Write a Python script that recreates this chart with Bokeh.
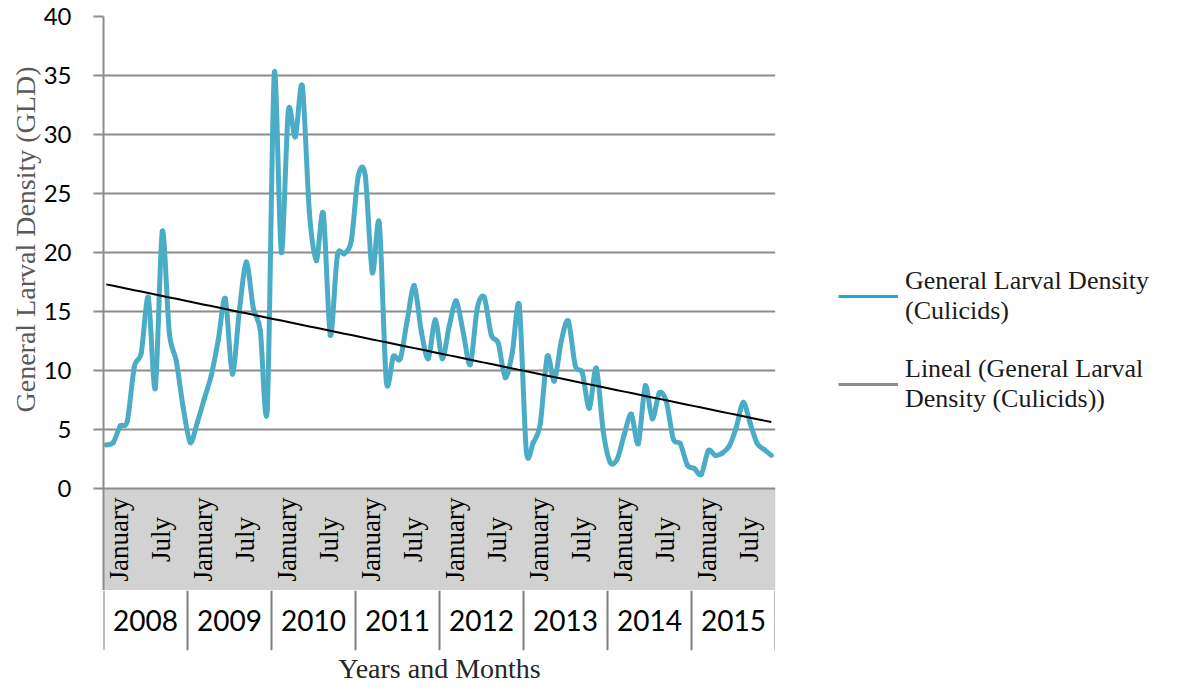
import numpy as np
from bokeh.plotting import figure
from bokeh.layouts import column
from bokeh.models import (Range1d, FixedTicker, Legend, LegendItem,
                          ColumnDataSource, Title, BoxAnnotation)
from bokeh.core.properties import value
from bokeh.embed import file_html
from bokeh.resources import INLINE

# ---------------- data ----------------
years = ["2008", "2009", "2010", "2011", "2012", "2013", "2014", "2015"]
month_tick_names = ["January", "July"]          # labelled months of each year
month_tick_offsets = [0, 6]                      # month number within the year
y_ticks = [0, 5, 10, 15, 20, 25, 30, 35, 40]

# General Larval Density (Culicids), monthly Jan 2008 .. Dec 2015
gld = [
    3.7, 3.9, 5.3, 5.7, 10.3, 11.5, 16.2, 8.5, 21.8, 13.2, 10.8, 6.8,      # 2008
    3.9, 5.6, 7.6, 9.6, 12.6, 16.1, 9.7, 15.0, 19.2, 15.3, 13.4, 6.8,      # 2009
    35.2, 20.0, 32.0, 29.8, 34.1, 23.5, 19.3, 23.3, 13.0, 19.7, 19.9, 21.0, # 2010
    26.5, 26.5, 18.3, 22.5, 9.1, 11.2, 11.0, 14.3, 17.2, 13.3, 11.0, 14.3, # 2011
    11.0, 13.8, 15.9, 13.2, 10.5, 15.3, 16.2, 13.0, 12.3, 9.4, 11.5, 15.5, # 2012
    3.2, 3.9, 5.5, 11.2, 9.1, 12.5, 14.2, 10.4, 9.8, 6.8, 10.2, 4.8,       # 2013
    2.2, 2.5, 4.6, 6.3, 3.8, 8.7, 5.9, 8.1, 7.4, 4.2, 3.8, 2.0,            # 2014
    1.7, 1.2, 3.2, 2.8, 3.0, 3.6, 5.2, 7.3, 5.5, 3.8, 3.3, 2.8,            # 2015
]

# ---------------- styling constants ----------------
BLUE = "#4bacc6"
GRID = "#8c8c8c"
BAND_FILL = "#d2d2d2"
SERIF = "Liberation Serif"
SANS = "Lato"
FRAME_LEFT = 103
FRAME_W = 672
FRAME_TOP = 16
FRAME_H1 = 590 - FRAME_TOP          # value area + grey month band
BAND = 102 / (472 / 40)    # depth (y units) of the grey month band below 0 (102 px)
LABEL_SHIFT = 1.8          # month labels sit slightly right of their data point
SEP_SHIFT = -0.4           # year separators sit just left of January
TENSION = 1.0 / 7.0        # curve smoothing

n = len(gld)
xs = np.arange(n, dtype=float)
ys = np.array(gld, dtype=float)

x_range = Range1d(-0.4, n - 0.4)

# ---------------- main plot (incl. month band) ----------------
p1 = figure(frame_width=FRAME_W, frame_height=FRAME_H1, x_range=x_range,
            y_range=Range1d(-BAND, 40),
            x_axis_location=None, output_backend="svg", toolbar_location=None,
            min_border_left=FRAME_LEFT, min_border_right=0,
            min_border_top=FRAME_TOP, min_border_bottom=0)
p1.outline_line_color = None
p1.background_fill_color = "white"
p1.border_fill_color = "white"
p1.xgrid.grid_line_color = None

# grey band behind the month labels
p1.add_layout(BoxAnnotation(top=0, fill_color=BAND_FILL, fill_alpha=1.0,
                            line_color=None, level="image"))

p1.ygrid.grid_line_color = GRID
p1.ygrid.grid_line_width = 2
p1.yaxis.ticker = FixedTicker(ticks=y_ticks)
p1.ygrid.ticker = FixedTicker(ticks=y_ticks)
p1.yaxis.axis_line_color = GRID
p1.yaxis.axis_line_width = 2
p1.yaxis.major_tick_line_color = GRID
p1.yaxis.major_tick_line_width = 2
p1.yaxis.major_tick_out = 10
p1.yaxis.major_tick_in = 0
p1.yaxis.minor_tick_line_color = None
p1.yaxis.major_label_text_font = SANS
p1.yaxis.major_label_text_font_size = "24px"
p1.yaxis.major_label_text_color = "black"
p1.yaxis.major_label_standoff = 22

# y axis title, placed along the value part of the axis
p1.add_layout(Title(text="General Larval Density (GLD)", align="left", offset=178,
                    text_font=SERIF, text_font_size="28px",
                    text_font_style="normal", text_color="#595959",
                    standoff=0), "left")

# smoothed series drawn as bezier segments (Excel-style smoothing)
prev_i = np.clip(np.arange(n - 1) - 1, 0, n - 1)
next2_i = np.clip(np.arange(n - 1) + 2, 0, n - 1)
i0 = np.arange(n - 1)
i1 = i0 + 1
bz = ColumnDataSource(dict(
    x0=xs[i0], y0=ys[i0], x1=xs[i1], y1=ys[i1],
    cx0=xs[i0] + (xs[i1] - xs[prev_i]) * TENSION,
    cy0=ys[i0] + (ys[i1] - ys[prev_i]) * TENSION,
    cx1=xs[i1] - (xs[next2_i] - xs[i0]) * TENSION,
    cy1=ys[i1] - (ys[next2_i] - ys[i0]) * TENSION,
))
p1.bezier(x0="x0", y0="y0", x1="x1", y1="y1", cx0="cx0", cy0="cy0",
          cx1="cx1", cy1="cy1", source=bz, line_color=BLUE, line_width=5,
          line_cap="round")

# linear trend line (least squares fit of the series)
slope, intercept = np.polyfit(xs, ys, 1)
trend = intercept + slope * xs
p1.line(xs, trend, line_color="black", line_width=2)

# month labels inside the grey band
lab_x, lab_t = [], []
for k, _ in enumerate(years):
    for name, off in zip(month_tick_names, month_tick_offsets):
        lab_x.append(12 * k + off + LABEL_SHIFT)
        lab_t.append(name)
p1.text(x=lab_x, y=[-BAND / 2] * len(lab_x), text=lab_t, angle=np.pi / 2,
        text_align="center", text_baseline="middle",
        text_font=value(SERIF), text_font_size="27px", text_color="black")

# legend (swatch-only renderers, styled as in the original legend)
leg_blue = p1.line(x=[np.nan], y=[np.nan], line_color="#1ea8e0", line_width=3)
leg_grey = p1.line(x=[np.nan], y=[np.nan], line_color="#8c8c8c", line_width=3)
legend = Legend(items=[
    LegendItem(label=value("General Larval Density\n(Culicids)"), renderers=[leg_blue]),
    LegendItem(label=value("Lineal (General Larval\nDensity (Culicids))"), renderers=[leg_grey]),
], location=(63, 176))
legend.label_text_font = SERIF
legend.label_text_font_size = "26px"
legend.label_text_color = "#1a1a1a"
legend.label_text_line_height = 1.25
legend.glyph_width = 60
legend.label_standoff = 7
legend.spacing = 28
legend.padding = 0
legend.margin = 0
legend.border_line_color = None
legend.background_fill_alpha = 0
p1.add_layout(legend, "right")

# ---------------- year band ----------------
p3 = figure(frame_width=FRAME_W, frame_height=60, x_range=x_range,
            y_range=Range1d(0, 1),
            x_axis_location=None, y_axis_location=None,
            output_backend="svg", toolbar_location=None,
            min_border_left=FRAME_LEFT, min_border_right=0,
            min_border_top=0, min_border_bottom=40,
            background_fill_color="white", border_fill_color="white")
p3.outline_line_color = None
p3.grid.visible = False
seps = [12 * k + SEP_SHIFT for k in range(len(years) + 1)]
p3.segment(x0=seps, y0=[0] * len(seps), x1=seps, y1=[1] * len(seps),
           line_color="#7f7f7f", line_width=2)
year_mid = [12 * k + 6 + SEP_SHIFT for k in range(len(years))]
p3.text(x=year_mid, y=[0.5] * len(years), text=years,
        text_align="center", text_baseline="middle",
        text_font=value(SANS), text_font_size="28px", text_color="black")
p3.add_layout(Title(text="Years and Months", align="center", text_font=SERIF,
                    text_font_size="28px", text_font_style="normal",
                    text_color="#262626", standoff=0), "below")

layout = column(p1, p3, spacing=0)
open("out.html", "w").write(file_html(layout, INLINE))
